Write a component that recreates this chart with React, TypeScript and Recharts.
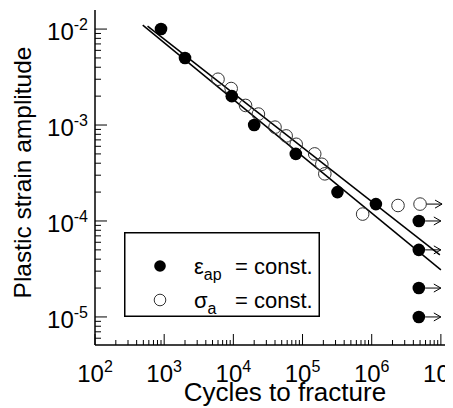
import React from "react";
import {
  ScatterChart,
  Scatter,
  XAxis,
  YAxis,
  Legend,
} from "recharts";

const FONT = "'Liberation Sans', Arial, Helvetica, sans-serif";

// fatigue data (N = cycles to fracture, e = plastic strain amplitude)
const strainControlled = [
  { n: 900, e: 0.01 },
  { n: 2000, e: 0.005 },
  { n: 9500, e: 0.002 },
  { n: 20000, e: 0.001 },
  { n: 80000, e: 0.0005 },
  { n: 320000, e: 0.0002 },
  { n: 1150000, e: 0.00015 },
];

const stressControlled = [
  { n: 6000, e: 0.003 },
  { n: 9300, e: 0.0024 },
  { n: 15000, e: 0.0016 },
  { n: 23000, e: 0.0013 },
  { n: 40000, e: 0.00095 },
  { n: 58000, e: 0.00077 },
  { n: 81000, e: 0.00063 },
  { n: 150000, e: 0.0005 },
  { n: 190000, e: 0.00039 },
  { n: 210000, e: 0.00031 },
  { n: 740000, e: 0.000118 },
  { n: 2400000, e: 0.000145 },
];

// run-outs (no fracture)
const strainRunouts = [
  { n: 4800000, e: 0.0001 },
  { n: 4800000, e: 0.00005 },
  { n: 4800000, e: 0.00002 },
  { n: 4800000, e: 0.00001 },
];
const stressRunouts = [{ n: 5000000, e: 0.00015 }];

// fitted Coffin-Manson lines
const fitStrain = [
  { n: 490, e: 0.011 },
  { n: 10000000, e: 0.0000309 },
];
const fitStress = [
  { n: 575, e: 0.01074 },
  { n: 9660000, e: 0.0000443 },
];

const xDecades = [2, 3, 4, 5, 6, 7];
const yDecades = [-6, -5, -4, -3, -2];
const mantissas = [1, 2, 3, 4, 5, 6, 7, 8, 9];

const xTicks = xDecades.flatMap((d) => mantissas.map((m) => m * 10 ** d)).filter((v) => v <= 1.6e7);
const yTicks = yDecades
  .flatMap((d) => mantissas.map((m) => m * 10 ** d))
  .filter((v) => v >= 5.1e-6 && v <= 0.0158);

const isMajor = (v: number) => {
  const exp = Math.round(Math.log10(v));
  return Math.abs(v - 10 ** exp) / v < 1e-6;
};

const XTick = (props: any) => {
  const { x, y, payload } = props;
  const v = payload.value;
  const major = isMajor(v);
  return (
    <g>
      <line x1={x} x2={x} y1={y} y2={y - (major ? 11 : 5)} stroke="#000" strokeWidth={1} />
      {major && (
        <text x={x} y={y + 37} textAnchor="middle" fontSize={24} fontFamily={FONT} fill="#000">
          10
          <tspan dy={-10} fontSize={16}>
            {Math.round(Math.log10(v))}
          </tspan>
        </text>
      )}
    </g>
  );
};

const YTick = (props: any) => {
  const { x, y, payload } = props;
  const v = payload.value;
  const major = isMajor(v);
  return (
    <g>
      <line x1={x} x2={x + (major ? 12 : 6)} y1={y} y2={y} stroke="#000" strokeWidth={1} />
      {major && (
        <text x={x - 7} y={y + 11} textAnchor="end" fontSize={24} fontFamily={FONT} fill="#000">
          10
          <tspan dy={-10} fontSize={16}>
            {Math.round(Math.log10(v))}
          </tspan>
        </text>
      )}
    </g>
  );
};

const R = 6.3;

const FilledDot = (p: any) => <circle cx={p.cx} cy={p.cy} r={R} fill="#000" />;
const OpenDot = (p: any) => (
  <circle cx={p.cx} cy={p.cy} r={R} fill="none" stroke="#333" strokeWidth={1} />
);

const Arrow = ({ cx, cy }: { cx: number; cy: number }) => (
  <g stroke="#000" strokeWidth={1} fill="none">
    <line x1={cx + R} x2={cx + 22} y1={cy} y2={cy} />
    <polyline points={`${cx + 15},${cy - 4} ${cx + 22},${cy} ${cx + 15},${cy + 4}`} />
  </g>
);

const FilledRunout = (p: any) => (
  <g>
    <Arrow cx={p.cx} cy={p.cy} />
    <circle cx={p.cx} cy={p.cy} r={R} fill="#000" />
  </g>
);
const OpenRunout = (p: any) => (
  <g>
    <Arrow cx={p.cx} cy={p.cy} />
    <circle cx={p.cx} cy={p.cy} r={R} fill="none" stroke="#333" strokeWidth={1} />
  </g>
);

const NoDot = () => <g />;

const LegendBox = () => (
  <svg width={196} height={85} style={{ display: "block" }}>
    <rect x={0.75} y={0.75} width={194.5} height={83.5} fill="#fff" stroke="#000" strokeWidth={1.5} />
    <circle cx={36} cy={34} r={5.8} fill="#000" />
    <circle cx={36} cy={68} r={5.8} fill="none" stroke="#333" strokeWidth={1} />
    <g fontFamily={FONT} fill="#000" fontSize={22}>
      <text x={70} y={42}>
        ε<tspan dy={6} fontSize={16}>ap</tspan>
      </text>
      <text x={111} y={42}>= const.</text>
      <text x={70} y={76}>
        σ<tspan dy={6} fontSize={16}>a</tspan>
      </text>
      <text x={111} y={76}>= const.</text>
    </g>
  </svg>
);

const YLabel = (props: any) => {
  const vb = props.viewBox;
  const x = vb.x + 22.5;
  const y = vb.y + vb.height / 2 - 5;
  return (
    <text
      x={x}
      y={y}
      transform={`rotate(-90, ${x}, ${y})`}
      textAnchor="middle"
      fontSize={24.5}
      fontFamily={FONT}
      fill="#000"
    >
      Plastic strain amplitude
    </text>
  );
};

const XLabel = (props: any) => {
  const vb = props.viewBox;
  return (
    <text x={vb.x + 190} y={vb.y + 56} textAnchor="middle" fontSize={26} fontFamily={FONT} fill="#000">
      Cycles to fracture
    </text>
  );
};

export default function App() {
  return (
    <div style={{ width: 445, height: 400, overflow: "hidden", position: "relative" }}>
      <ScatterChart width={460} height={400} margin={{ top: 2, right: 13, bottom: 0, left: 0 }}>
        <XAxis
          dataKey="n"
          type="number"
          scale="log"
          domain={[100, 1.6e7]}
          allowDataOverflow
          ticks={xTicks}
          interval={0}
          tick={<XTick />}
          tickLine={false}
          tickSize={0}
          tickMargin={0}
          height={63}
          axisLine={{ stroke: "#000", strokeWidth: 1.5 }}
          label={<XLabel />}
        />
        <XAxis
          xAxisId="top"
          orientation="top"
          dataKey="n"
          type="number"
          scale="log"
          domain={[100, 1.6e7]}
          allowDataOverflow
          tick={false}
          tickLine={false}
          height={0}
          axisLine={{ stroke: "#000", strokeWidth: 1.5 }}
        />
        <YAxis
          dataKey="e"
          type="number"
          scale="log"
          domain={[5.1e-6, 0.0158]}
          allowDataOverflow
          ticks={yTicks}
          interval={0}
          tick={<YTick />}
          tickLine={false}
          tickSize={0}
          tickMargin={0}
          width={87}
          axisLine={{ stroke: "#000", strokeWidth: 1.5 }}
          label={<YLabel />}
        />
        <Legend
          layout="vertical"
          align="center"
          verticalAlign="middle"
          content={() => <LegendBox />}
          wrapperStyle={{ left: 116, top: 224, width: 196, height: 85 }}
        />
        <Scatter
          data={fitStrain}
          line={{ stroke: "#000", strokeWidth: 1.5 }}
          shape={<NoDot />}
          legendType="none"
          isAnimationActive={false}
        />
        <Scatter
          data={fitStress}
          line={{ stroke: "#000", strokeWidth: 1.5 }}
          shape={<NoDot />}
          legendType="none"
          isAnimationActive={false}
        />
        <Scatter data={stressControlled} shape={<OpenDot />} isAnimationActive={false} />
        <Scatter data={stressRunouts} shape={<OpenRunout />} isAnimationActive={false} />
        <Scatter data={strainControlled} shape={<FilledDot />} isAnimationActive={false} />
        <Scatter data={strainRunouts} shape={<FilledRunout />} isAnimationActive={false} />
      </ScatterChart>
    </div>
  );
}
